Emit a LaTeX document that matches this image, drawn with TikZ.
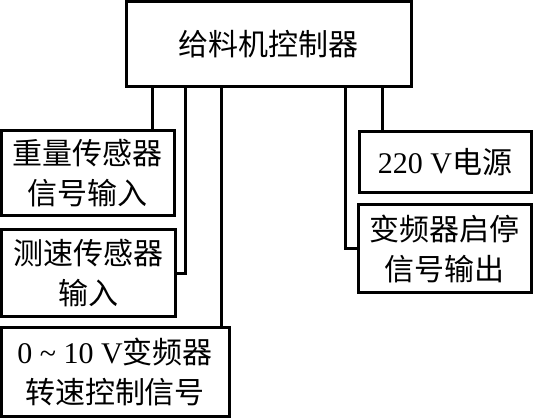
\documentclass[tikz,border=0pt]{standalone}
\usepackage{fontspec}
\setmainfont{Liberation Serif}
\newfontfamily\cjk{Noto Sans CJK SC}
\usepackage{tikz}

\begin{document}
\begin{tikzpicture}[x=1pt,y=-1pt,line width=3pt,
    blk/.style={draw,rectangle,align=center,inner sep=0pt,font=\fontsize{30}{40}\selectfont}]
    \useasboundingbox (0,0) rectangle (533,419);
    \node[blk,minimum width=285pt,minimum height=85pt] (ctrl) at (268.5,44.5) {\cjk 给料机控制器};
    \node[blk,minimum width=173pt,minimum height=85pt] (weight) at (87.5,173.5) {\cjk 重量传感器\\\cjk 信号输入};
    \node[blk,minimum width=174pt,minimum height=87pt] (speed) at (88,273.5) {\cjk 测速传感器\\\cjk 输入};
    \node[blk,minimum width=228pt,minimum height=89pt] (vfd) at (115,372.5) {0 \~{} 10 V{\cjk 变频器}\\\cjk 转速控制信号};
    \node[blk,minimum width=172pt,minimum height=61pt] (power) at (445,162.5) {220 V{\cjk 电源}};
    \node[blk,minimum width=173pt,minimum height=88pt] (stop) at (444.5,249) {\cjk 变频器启停\\\cjk 信号输出};
    \coordinate (c1) at (152,0);
    \coordinate (c2) at (185,0);
    \coordinate (c3) at (221,0);
    \coordinate (c4) at (345,0);
    \coordinate (c5) at (382,0);
    \draw (c1 |- ctrl.south) -- (c1 |- weight.north);
    \draw (c2 |- ctrl.south) |- (speed.east);
    \draw (c3 |- ctrl.south) -- (c3 |- vfd.north);
    \draw (c4 |- ctrl.south) |- (stop.west);
    \draw (c5 |- ctrl.south) -- (c5 |- power.north);
  \end{tikzpicture}
\end{document}
